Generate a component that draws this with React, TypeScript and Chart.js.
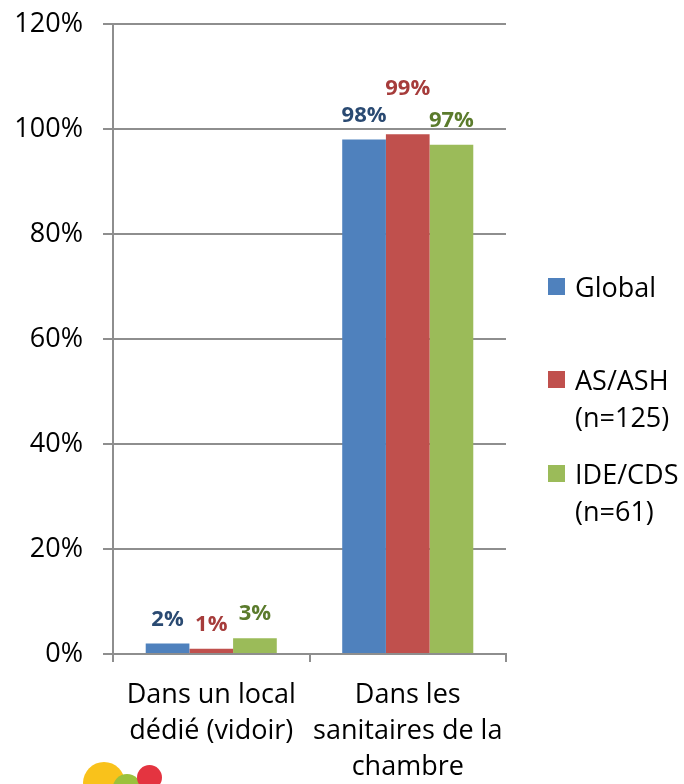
import React, { useEffect, useRef } from "react";
import { Chart, registerables } from "chart.js";

Chart.register(...registerables);

const categories: string[][] = [
  ["Dans un local", "dédié (vidoir)"],
  ["Dans les", "sanitaires de la", "chambre"],
];
const seriesNames = ["Global", "AS/ASH (n=125)", "IDE/CDS (n=61)"];
const globalValues = [2, 98];
const asAshValues = [1, 99];
const ideCdsValues = [3, 97];
const yTicks = [0, 20, 40, 60, 80, 100, 120];

const barColors = ["#4F81BD", "#C0504D", "#9BBB59"];
const labelColors = ["#2A4A72", "#A63C3B", "#5B7B2C"];
const gridColor = "#8E8E8E";
const FONT = "'Open Sans', 'Noto Sans', sans-serif";

const dataLabelPlugin = {
  id: "dataLabels",
  afterDatasetsDraw(chart: any) {
    const ctx = chart.ctx;
    const raise: Record<string, number> = { "1-1": 21 };
    ctx.save();
    ctx.font = `bold 22px ${FONT}`;
    ctx.textAlign = "center";
    ctx.textBaseline = "alphabetic";
    chart.data.datasets.forEach((ds: any, di: number) => {
      const meta = chart.getDatasetMeta(di);
      meta.data.forEach((bar: any, i: number) => {
        const extra = raise[`${di}-${i}`] || 0;
        ctx.fillStyle = labelColors[di];
        ctx.fillText(`${ds.data[i]}%`, bar.x, bar.y - 18 - extra);
      });
    });
    ctx.restore();
  },
};

function Legend() {
  const items = [
    { color: barColors[0], lines: ["Global"], top: 268 },
    { color: barColors[1], lines: ["AS/ASH", "(n=125)"], top: 361 },
    { color: barColors[2], lines: ["IDE/CDS", "(n=61)"], top: 455 },
  ];
  return (
    <>
      {items.map((it, k) => (
        <div
          key={k}
          style={{
            position: "absolute",
            left: 548,
            top: it.top,
            display: "flex",
            alignItems: "flex-start",
            fontFamily: FONT,
            fontSize: 27,
            lineHeight: "37px",
            color: "#000",
          }}
        >
          <div
            style={{
              width: 17,
              height: 17,
              background: it.color,
              marginTop: 10,
              marginRight: 10,
              flex: "none",
            }}
          />
          <div>
            {it.lines.map((l, j) => (
              <div key={j}>{l}</div>
            ))}
          </div>
        </div>
      ))}
    </>
  );
}

function Logo() {
  const circles = [
    { cx: 90, cy: 804, r: 20, c: "#3AAFB9" },
    { cx: 104, cy: 783, r: 21, c: "#F9C21B" },
    { cx: 127, cy: 788, r: 14, c: "#9BC13C" },
    { cx: 149.5, cy: 777.5, r: 12.5, c: "#E43440" },
  ];
  return (
    <>
      {circles.map((c, k) => (
        <div
          key={k}
          style={{
            position: "absolute",
            left: c.cx - c.r,
            top: c.cy - c.r,
            width: c.r * 2,
            height: c.r * 2,
            borderRadius: "50%",
            background: c.c,
          }}
        />
      ))}
    </>
  );
}

export default function App() {
  const ref = useRef<HTMLCanvasElement | null>(null);
  useEffect(() => {
    if (!ref.current) return;
    const chart = new Chart(ref.current, {
      type: "bar",
      data: {
        labels: categories as any,
        datasets: [
          { label: seriesNames[0], data: globalValues, backgroundColor: barColors[0] },
          { label: seriesNames[1], data: asAshValues, backgroundColor: barColors[1] },
          { label: seriesNames[2], data: ideCdsValues, backgroundColor: barColors[2] },
        ],
      },
      options: {
        responsive: false,
        animation: false,
        layout: { padding: { left: 0, right: 178, top: 24, bottom: 0 } },
        datasets: {
          bar: { categoryPercentage: 0.667, barPercentage: 1.0, borderWidth: 0 },
        },
        plugins: {
          legend: { display: false },
          tooltip: { enabled: false },
        },
        scales: {
          x: {
            afterFit: (s: any) => {
              s.height = 130;
              s.paddingLeft = 0;
              s.paddingRight = 0;
            },
            grid: {
              offset: true,
              drawOnChartArea: false,
              drawTicks: true,
              tickLength: 8,
              color: gridColor,
              lineWidth: 2,
            },
            border: { display: true, color: gridColor, width: 2 },
            ticks: {
              color: "#000",
              font: { family: FONT, size: 27, lineHeight: 1.34 },
              padding: 15,
              maxRotation: 0,
              autoSkip: false,
            },
          },
          y: {
            min: 0,
            max: 120,
            afterFit: (s: any) => {
              s.width = 113;
              s.paddingTop = 0;
              s.paddingBottom = 0;
            },
            afterBuildTicks: (s: any) => {
              s.ticks = yTicks.map((v) => ({ value: v }));
            },
            grid: {
              color: gridColor,
              lineWidth: 2,
              tickLength: 10,
              drawTicks: true,
            },
            border: { display: true, color: gridColor, width: 2 },
            ticks: {
              color: "#000",
              font: { family: FONT, size: 27 },
              padding: 20,
              callback: (v: any) => `${v}%`,
            },
          },
        },
      },
      plugins: [dataLabelPlugin],
    });
    return () => chart.destroy();
  }, []);

  return (
    <div
      style={{
        position: "fixed",
        left: 0,
        top: 0,
        width: 684,
        height: 784,
        overflow: "hidden",
        background: "#fff",
      }}
    >
      <canvas ref={ref} width={684} height={784} style={{ position: "absolute", left: 0, top: 0 }} />
      <Legend />
      <Logo />
    </div>
  );
}
